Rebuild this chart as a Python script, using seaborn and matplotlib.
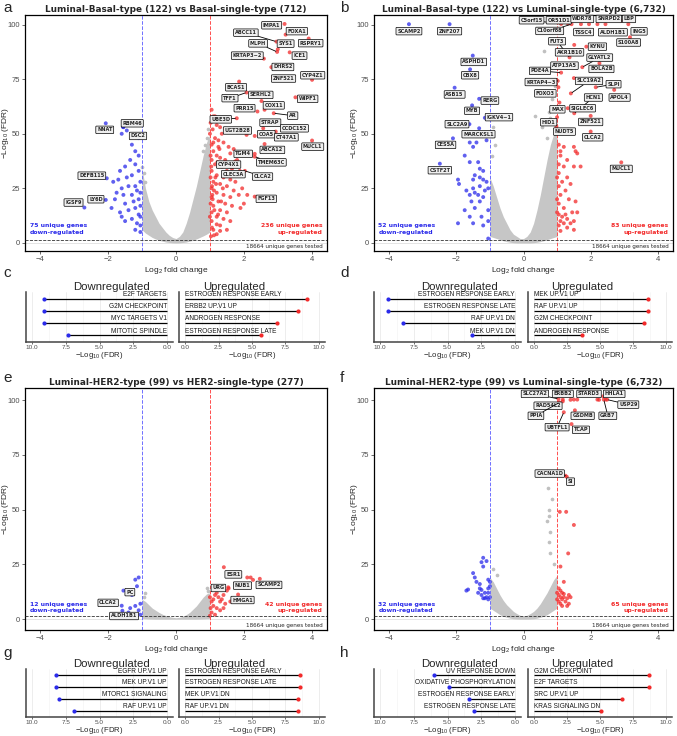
import numpy as np
import pandas as pd
import matplotlib
matplotlib.use("Agg")
import matplotlib.pyplot as plt
import seaborn as sns

sns.set_theme(style="white")
plt.rcParams['font.family'] = ['Liberation Sans', 'DejaVu Sans']
plt.rcParams['mathtext.default'] = 'regular'

W, H = 677, 736
RED = '#f22a2a'
BLUE = '#2b2bea'
GREY = '#c0c0c0'

# ---------------- volcano data ----------------
# x grid of the grey (non significant) cloud
cloud_x = [-1.0, -0.9, -0.8, -0.7, -0.6, -0.5, -0.4, -0.3, -0.2, -0.1, 0.0,
           0.1, 0.2, 0.3, 0.4, 0.5, 0.6, 0.7, 0.8, 0.9, 1.0]

# panel a: Luminal-Basal vs Basal-single
a_genes = ['IMPA1', 'FOXA1', 'RSPRY1', 'ABCC11', 'SYS1', 'MLPH', 'ICE1', 'KRTAP3−2',
           'DHRS2', 'ZNF521', 'CYP4Z1', 'BCAS1', 'TFF1', 'SERHL2', 'WIPF1', 'PRR15',
           'COX11', 'AR', 'UBE3D', 'STRAP', 'CCDC152', 'UGT2B28', 'COA5', 'CT47A1',
           'ABCA12', 'MUCL1', 'TGM4', 'TMEM63C', 'CYP4X1', 'CLEC3A', 'CLCA2', 'FGF13',
           'NNAT', 'RBM46', 'DSC2', 'DEFB115', 'LY6D', 'IGSF9']
a_lfc = [3.2, 3.23, 3.91, 2.96, 3.0, 2.98, 3.35, 2.59, 2.81, 2.86, 4.01, 1.86, 2.08, 2.52,
         3.52, 2.4, 2.61, 2.88, 1.79, 2.57, 3.2, 2.08, 2.32, 2.94, 2.61, 4.01, 2.32, 2.32,
         1.74, 1.88, 2.03, 2.32, -2.07, -1.56, -1.45, -2.04, -2.07, -2.7]
a_fdr = [100.3, 95.4, 93.6, 92.2, 88.7, 87.5, 87.3, 84.4, 80.5, 75.7, 74.7, 73.9, 68.9, 65.0,
         66.7, 60.2, 61.0, 59.4, 57.1, 52.5, 51.8, 49.5, 49.0, 51.0, 45.3, 46.9, 40.8, 39.5,
         37.3, 33.0, 33.0, 21.2, 54.8, 53.1, 51.5, 29.6, 19.7, 16.2]
a_label_pos = [(2.82, 99.7), (3.56, 97), (3.97, 91.5), (2.06, 96.3), (3.23, 91.3), (2.42, 91.4),
               (3.64, 85.8), (2.1, 85.8), (3.15, 80.6), (3.17, 75.3), (4.03, 76.8), (1.77, 71.3),
               (1.59, 66.3), (2.5, 67.8), (3.88, 66), (2.02, 61.7), (2.88, 63), (3.44, 58.3),
               (1.32, 56.6), (2.78, 55.1), (3.49, 52.5), (1.81, 51.5), (2.66, 49.8), (3.25, 48.4),
               (2.84, 42.6), (4.03, 44.1), (1.98, 40.8), (2.81, 36.9), (1.55, 35.9), (1.69, 31.5),
               (2.55, 30.4), (2.66, 20.2), (-2.1, 51.8), (-1.29, 54.8), (-1.12, 49), (-2.48, 30.8),
               (-2.36, 20), (-3.02, 18.5)]
a_up_x = [1.05, 1.1, 1.02, 1.08, 1.2, 1.3, 1.35, 1.15, 1.25, 1.05, 1.4, 1.55, 1.7, 1.6, 1.1, 1.2,
          1.3, 1.45, 1.05, 1.15, 1.35, 1.5, 1.65, 1.8, 1.9, 1.05, 1.2, 1.4, 1.6, 1.75, 1.1, 1.3,
          1.5, 1.7, 1.05, 1.2, 1.4, 1.6, 1.85, 1.05, 1.25, 1.45, 1.65, 1.9, 1.1, 1.3, 1.5, 1.05,
          1.2, 1.4, 1.6, 1.05, 1.3, 1.5, 1.1, 1.2, 1.3, 2.1, 2.0, 1.95, 1.02, 1.02, 1.02, 1.08,
          1.12, 1.18, 1.25, 1.45, 1.03, 1.06, 1.0, 1.13, 1.07, 1.16, 1.04, 1.22, 1.1, 1.28, 1.0,
          1.15, 1.06, 1.24, 1.33, 1.38, 1.12, 1.2]
a_up_y = [61, 58, 55, 52, 54, 53, 50, 48, 47, 45, 46, 44, 43, 41, 42, 40, 39, 38, 38, 36, 35,
          33, 34, 38, 31, 33, 31, 30, 29, 28, 28, 27, 26, 24, 25, 23, 22, 21, 22, 21, 19, 18,
          17, 16, 17, 15, 14, 14, 12, 11, 10, 10, 8, 6, 6, 4, 5.5, 22, 18, 25, 18, 30, 40, 20,
          24, 27, 44, 52, 3, 7, 12, 15, 22, 30, 35, 37, 46, 43, 50, 58, 26, 13, 19, 25, 3.5,
          8.5]
a_down_x = [-1.1, -1.2, -1.1, -1.35, -1.2, -1.5, -1.65, -1.1, -1.3, -1.45, -1.7, -1.85, -1.05,
            -1.2, -1.4, -1.15, -1.05, -1.3, -1.55, -1.75, -1.1, -1.25, -1.5, -1.05, -1.2, -1.4,
            -1.65, -1.1, -1.05, -1.3, -1.15, -1.5, -1.05, -1.2, -1.05, -1.6, -1.9, -1.8, -1.6,
            -1.3, -1.55, -1.6]
a_down_y = [48, 42, 40, 38, 36, 35, 33, 33, 31, 30, 29, 28, 28, 26, 26, 24, 23, 22, 22, 23, 20,
            19, 18, 17, 16, 15, 14, 13, 12, 11, 9, 10, 8, 6, 5, 12, 16, 20, 25, 45, 53, 50]
a_cloud_hi = [34, 25, 19, 15, 12, 9, 7, 5, 3.5, 2.5, 2, 3, 5, 9, 14, 20, 26, 33, 40, 46, 50]
a_cloud_lo = [6, 4.5, 3.5, 2.5, 1.8, 1.2, 0.8, 0.4, 0.2, 0.05, 0, 0.05, 0.2, 0.4, 0.8, 1.2,
              1.8, 2.5, 3.2, 4, 5]
a_grey_x = [0.95, 0.9, 0.85, -1.0, -0.95, 0.97, 0.8, -0.9]
a_grey_y = [52, 48, 45, 35, 32, 40, 42, 28]

# panel b: Luminal-Basal vs Luminal-single
b_genes = ['SCAMP2', 'ZNF207', 'ASPHD1', 'CBX8', 'ASB15', 'RERG', 'MYB', 'IGKV4−1', 'SLC2A9',
           'MARCKSL1', 'CES5A', 'CSTF2T', 'C5orf15', 'OR51D1', 'WDR78', 'SNRPD2', 'LBP',
           'C10orf88', 'TSSC4', 'ALDH1B1', 'ING5', 'S100A8', 'FUT3', 'AKR1B10', 'KYNU',
           'GLYATL2', 'ATP13A5', 'BOLA2B', 'PDE4A', 'KRTAP4−3', 'SLC19A2', 'SLPI', 'APOL4',
           'FOXO3', 'HCN1', 'MAX', 'SIGLEC6', 'HID1', 'ZNF521', 'NUDT5', 'CLCA2', 'MUCL1']
b_lfc = [-3.41, -2.2, -1.51, -1.59, -2.05, -1.32, -1.53, -1.15, -1.61, -1.32, -2.1, -2.49,
         1.12, 1.32, 1.95, 2.2, 2.9, 1.43, 1.71, 2.44, 3.12, 3.17, 1.37, 1.51, 1.87, 1.75, 1.5,
         2.26, 1.12, 1.02, 1.41, 2.15, 2.7, 1.04, 1.51, 1.07, 1.32, 1.0, 2.0, 0.98, 2.0, 2.91]
b_fdr = [100.2, 100.2, 85.8, 79.5, 71.1, 66.0, 63.0, 57.3, 54.4, 52.5, 47.9, 36.3, 100.3,
         100.6, 100.2, 100.2, 101.8, 100.2, 100.2, 100.2, 100.2, 94.2, 85.0, 90.7, 89.9, 80.5,
         75.5, 82.3, 78.0, 74.2, 68.5, 71.3, 70.1, 71.3, 59.4, 64.3, 61.7, 57.6, 58.2, 53.3,
         51.0, 36.9]
b_label_pos = [(-3.41, 97), (-2.2, 97), (-1.48, 82.9), (-1.59, 76.8), (-2.05, 68), (-1.0, 65.2),
               (-1.53, 60.5), (-0.73, 57.6), (-1.98, 54.4), (-1.34, 49.8), (-2.32, 44.9),
               (-2.49, 33.3), (0.24, 102), (1.05, 102), (1.75, 102.6), (2.54, 102.6),
               (3.14, 102.6), (0.78, 97.1), (1.79, 96.6), (2.66, 96.5), (3.44, 96.9),
               (3.13, 91.8), (1.0, 92.4), (1.37, 87.3), (2.2, 89.9), (2.27, 84.9), (1.22, 81.2),
               (2.32, 79.7), (0.49, 78.8), (0.52, 73.7), (1.95, 74.2), (2.68, 72.7),
               (2.86, 66.6), (0.65, 68.5), (2.08, 66.6), (1.01, 61.2), (1.76, 61.7),
               (0.75, 55.3), (2.0, 55.4), (1.22, 51), (2.06, 48.4), (2.91, 33.9)]
b_up_x = [1.05, 1.2, 1.5, 1.55, 1.6, 1.1, 1.3, 1.05, 1.2, 1.5, 1.7, 1.05, 1.3, 1.15, 1.4, 1.05,
          1.25, 1.1, 1.35, 1.55, 1.05, 1.2, 1.45, 1.6, 1.05, 1.15, 1.3, 1.1, 1.2, 1.05, 1.3, 1.5,
          1.1, 1.0, 1.0, 1.0, 1.4, 1.5, 1.1, 1.25]
b_up_y = [45, 44, 44, 42, 41, 40, 38, 36, 35, 35, 35, 32, 30, 28, 27, 26, 24, 22, 20, 19, 18,
          16, 14, 14, 13, 12, 11, 10, 9, 8, 7, 6, 5.5, 14, 20, 30, 9, 10, 42, 13]
b_down_x = [-1.1, -1.4, -1.6, -1.5, -1.75, -1.6, -1.35, -1.3, -1.2, -1.45, -1.3, -1.2, -1.5,
            -1.1, -1.95, -1.92, -1.3, -1.5, -1.05, -1.15, -1.7, -1.45, -1.6, -1.35, -1.2,
            -1.55, -1.3, -1.45, -1.05, -1.75, -1.6, -1.25, -1.05, -1.95, -1.5, -1.2, -1.05]
b_down_y = [47, 46, 46, 44, 40, 37, 37, 34, 33, 31, 30, 29, 29, 28, 29, 27, 26, 25, 25, 24,
            24, 23, 22, 22, 21, 19, 19, 16, 15, 15, 12, 12, 10, 9, 9, 8, 2]
b_cloud_hi = [30, 26, 21, 16, 12, 9, 6, 4, 3, 2, 2, 3, 5, 9, 15, 22, 30, 38, 45, 50, 52]
b_cloud_lo = [3, 2.5, 2, 1.5, 1, 0.6, 0.3, 0.1, 0, 0, 0, 0, 0, 0.1, 0.3, 0.6, 1, 1.5, 2, 2.5, 3]
b_grey_x = [0.61, 0.35, 0.75, 0.85, 0.55, 0.9, -0.9, -0.95, -0.85, 0.95, 0.7, 0.8, -0.93]
b_grey_y = [88, 58, 60, 66, 53, 55, 53, 49, 45, 72, 48, 57, 40]

# panel e: Luminal-HER2 vs HER2-single
e_genes = ['ESR1', 'SCAMP2', 'NUB1', 'URG', 'HMGA1', 'PC', 'CLCA2', 'ALDH1B1']
e_lfc = [1.41, 2.47, 2.27, 1.54, 1.83, -1.55, -1.6, -1.58]
e_fdr = [23.7, 18.4, 17.9, 14.5, 11.2, 13.0, 6.1, 3.8]
e_label_pos = [(1.69, 20.4), (2.74, 15.6), (1.96, 15.3), (1.25, 14.2), (1.96, 8.7),
               (-1.36, 12.3), (-2.0, 7.4), (-1.53, 1.4)]
e_up_x = [1.0, 1.05, 1.1, 1.15, 1.2, 1.25, 1.3, 1.35, 1.4, 1.45, 1.5, 1.55, 1.1, 1.2, 1.3,
          1.05, 1.15, 1.4, 1.6, 2.1, 2.2, 1.0, 1.02]
e_up_y = [10, 8, 9, 11, 12, 10, 8, 9, 11, 7, 13, 14, 6, 5, 4, 3, 2, 5, 8, 19, 19, 1.5, 5]
e_down_x = [-1.2, -1.1, -1.15, -1.3, -1.05, -1.2, -1.35, -1.1, -1.4, -1.05]
e_down_y = [18, 19, 15, 11, 7, 6, 5, 4, 3, 2]
e_cloud_hi = [9, 8, 6.5, 5, 4, 3, 2.2, 1.6, 1.1, 0.8, 0.6, 0.8, 1.2, 2, 3, 4.5, 6, 8, 10,
              11.5, 12]
e_cloud_lo = [0.3, 0.2, 0.1, 0.05, 0, 0, 0, 0, 0, 0, 0, 0, 0, 0, 0, 0, 0, 0.05, 0.1, 0.2, 0.3]
e_grey_x = [-0.95, -0.9, 0.95, 0.9]
e_grey_y = [10, 12, 13, 14]

# panel f: Luminal-HER2 vs Luminal-single
f_genes = ['SLC27A2', 'ERBB2', 'RAD54L2', 'PPIA', 'GSDMB', 'UBTFL1', 'TCAP', 'STARD3',
           'HHLA1', 'USP29', 'GRB7', 'CACNA1D', 'SI']
f_lfc = [1.04, 1.17, 1.17, 1.07, 1.53, 1.2, 1.43, 2.2, 2.37, 2.49, 2.39, 1.25, 1.29]
f_fdr = [100.6, 100.3, 99.5, 99.0, 95.4, 94.5, 89.1, 100.3, 101.8, 100.3, 100.3, 65.5, 65.0]
f_label_pos = [(0.34, 102.9), (1.17, 102.9), (0.73, 97.5), (0.37, 92.9), (1.76, 92.9),
               (1.0, 87.7), (1.71, 86.5), (1.95, 102.9), (2.7, 102.9), (3.12, 98),
               (2.51, 92.9), (0.78, 66.5), (1.4, 62.8)]
f_up_x = [1.08, 1.27, 1.5, 1.33, 1.1, 1.2, 1.05, 1.1, 1.15, 1.2, 1.05, 1.1, 1.2, 1.3, 1.15,
          1.05, 1.25, 1.1, 1.35, 1.4, 1.0, 1.0, 1.15, 1.3, 1.35, 1.4, 1.5, 1.6, 2.25, 2.45, 1.4]
f_up_y = [49, 49, 43, 30, 24, 17, 14, 13, 12, 11.5, 11, 10, 10, 9.5, 9, 8, 8, 7, 11, 10, 12,
          9, 6, 6, 7, 100.2, 100.3, 100.3, 100.2, 100.3, 102]
f_down_x = [-1.0, -1.05, -1.2, -1.25, -1.1, -1.2, -1.5, -1.45, -1.4, -1.65, -1.7, -1.3, -1.3,
            -1.15, -1.25, -1.05, -1.1, -1.15, -1.2, -1.05, -1.0, -1.25, -1.35, -1.05, -1.0]
f_down_y = [17, 18, 28, 26, 26.5, 24, 21, 19, 17, 13.5, 13, 16, 14, 12, 11, 12, 10, 9.5, 9.5,
            9, 10, 13.3, 12, 14, 15]
f_cloud_hi = [19, 17, 14, 11, 8.5, 6.5, 5, 3.5, 2.5, 1.7, 1.3, 1.7, 2.5, 3.5, 5, 7, 9.5, 12,
              15, 18, 20]
f_cloud_lo = [5, 4, 3, 2, 1.3, 0.8, 0.4, 0.15, 0.05, 0, 0, 0, 0.05, 0.15, 0.4, 0.8, 1.3, 2,
              3, 4, 5]
f_grey_x = [0.73, 0.76, 0.75, 0.78, 0.75, 0.8, 0.85, -0.9, -0.8, 0.7, 0.9]
f_grey_y = [60, 50, 47, 40, 35, 30, 55, 23, 20, 45, 25]

# ---------------- hallmark enrichment (lollipops) ----------------
c_down_terms = ['E2F TARGETS', 'G2M CHECKPOINT', 'MYC TARGETS V1', 'MITOTIC SPINDLE']
c_down_vals = [9.1, 9.1, 9.1, 7.3]
c_up_terms = ['ESTROGEN RESPONSE EARLY', 'ERBB2 UP.V1 UP', 'ANDROGEN RESPONSE',
              'ESTROGEN RESPONSE LATE']
c_up_vals = [9.1, 8.4, 6.9, 5.7]
d_down_terms = ['ESTROGEN RESPONSE EARLY', 'ESTROGEN RESPONSE LATE', 'RAF UP.V1 DN',
                'MEK UP.V1 DN']
d_down_vals = [9.4, 9.4, 8.3, 3.2]
d_up_terms = ['MEK UP.V1 UP', 'RAF UP.V1 UP', 'G2M CHECKPOINT', 'ANDROGEN RESPONSE']
d_up_vals = [8.6, 8.6, 8.3, 3.6]
g_down_terms = ['EGFR UP.V1 UP', 'MEK UP.V1 UP', 'MTORC1 SIGNALING', 'RAF UP.V1 UP']
g_down_vals = [8.2, 8.2, 8.0, 6.9]
g_up_terms = ['ESTROGEN RESPONSE EARLY', 'ESTROGEN RESPONSE LATE', 'MEK UP.V1 DN',
              'RAF UP.V1 DN']
g_up_vals = [8.6, 8.6, 8.4, 8.4]
h_down_terms = ['UV RESPONSE DOWN', 'OXIDATIVE PHOSPHORYLATION', 'ESTROGEN RESPONSE EARLY',
                'ESTROGEN RESPONSE LATE']
h_down_vals = [6.0, 4.9, 3.4, 3.0]
h_up_terms = ['G2M CHECKPOINT', 'E2F TARGETS', 'SRC UP.V1 UP', 'KRAS SIGNALING DN']
h_up_vals = [8.7, 8.7, 6.7, 5.1]


def px_axes(fig, left, right, top, bottom):
    return fig.add_axes([left / W, 1 - bottom / H, (right - left) / W, (bottom - top) / H])


def volcano(ax, title, genes, lfc, fdr, label_pos, up_x, up_y, down_x, down_y,
            cloud_hi, cloud_lo, grey_x, grey_y, n_down, n_up, ylim):
    ax.fill_between(cloud_x, cloud_lo, cloud_hi, color=GREY, alpha=0.9, lw=0, zorder=1)
    sns.scatterplot(x=grey_x, y=grey_y, color=GREY, s=7, linewidth=0, ax=ax, zorder=1)

    pts = pd.DataFrame({'lfc': list(up_x) + list(down_x) + list(lfc),
                        'fdr': list(up_y) + list(down_y) + list(fdr)})
    pts['dir'] = np.where(pts['lfc'] > 0, 'up', 'down')
    sns.scatterplot(data=pts, x='lfc', y='fdr', hue='dir', palette={'up': RED, 'down': BLUE},
                    s=8, linewidth=0, alpha=0.75, legend=False, ax=ax, zorder=2)

    ax.axvline(-1, color='#6f6fff', ls='--', lw=0.7, zorder=3)
    ax.axvline(1, color='#ff4d4d', ls='--', lw=0.7, zorder=3)
    ax.axhline(0, color='#d9d9d9', lw=0.5, zorder=0)
    ax.axhline(1.3, color='#333333', ls='--', lw=0.6, zorder=3)

    for g, x, y, (lx, ly) in zip(genes, lfc, fdr, label_pos):
        dist = np.hypot((lx - x) * 34, (ly - y) * 2.18)
        arrow = dict(arrowstyle='-', color='black', lw=0.6, shrinkA=0, shrinkB=1) if dist > 16 else None
        ax.annotate(g, xy=(x, y), xytext=(lx, ly), ha='center', va='center',
                    fontsize=3.6, fontweight='bold', family='DejaVu Sans', zorder=5,
                    bbox=dict(boxstyle='round,pad=0.25,rounding_size=0.15', fc='#efefef',
                              ec='black', lw=0.5),
                    arrowprops=arrow)

    ax.text(0.015, 0.093, f'{n_down} unique genes\ndown-regulated', transform=ax.transAxes,
            color=BLUE, fontsize=4.4, fontweight='bold', family='DejaVu Sans',
            ha='left', va='center', linespacing=1.3)
    ax.text(0.985, 0.093, f'{n_up} unique genes\nup-regulated', transform=ax.transAxes,
            color=RED, fontsize=4.4, fontweight='bold', family='DejaVu Sans',
            ha='right', va='center', multialignment='right', linespacing=1.3)
    ax.text(0.985, 0.008, '18664 unique genes tested', transform=ax.transAxes,
            fontsize=4.1, family='DejaVu Sans', ha='right', va='bottom')

    ax.set_xlim(-4.45, 4.45)
    ax.set_ylim(*ylim)
    ax.set_xticks([-4, -2, 0, 2, 4], ['−4', '−2', '0', '2', '4'])
    ax.set_yticks([0, 25, 50, 75, 100])
    ax.tick_params(labelsize=5.5, labelcolor='#4d4d4d', length=2, width=0.5, color='#333333',
                   pad=1.5, bottom=True, left=True)
    for sp in ax.spines.values():
        sp.set_color('black')
        sp.set_linewidth(0.9)
    ax.set_xlabel('Log$_2$ fold change', fontsize=6, labelpad=1.5)
    ax.set_ylabel('−Log$_{10}$ (FDR)', fontsize=6.0)
    ax.yaxis.set_label_coords(-0.047, 0.5)
    ax.set_title(title, fontsize=6.4, fontweight='bold', family='DejaVu Sans', pad=2.5)


def lollipop(ax, terms, vals, color, down, title):
    y = np.arange(len(terms))[::-1]
    ax.hlines(y, 0, vals, color='black', lw=0.9, zorder=2)
    sns.scatterplot(x=vals, y=y, color=color, s=9, linewidth=0, ax=ax, zorder=3)
    for t, yy in zip(terms, y):
        ax.text(0, yy + 0.06, t, ha='right' if down else 'left', va='bottom', fontsize=4.7,
                color='#1a1a1a', zorder=4)
    if down:
        ax.set_xlim(10.45, -0.45)
    else:
        ax.set_xlim(-0.45, 10.45)
    ax.set_ylim(-0.55, 3.55)
    ax.set_yticks([])
    ax.set_xticks([0, 2.5, 5, 7.5, 10], ['0.0', '2.5', '5.0', '7.5', '10.0'])
    ax.set_xticks([1.25, 3.75, 6.25, 8.75], minor=True)
    ax.grid(axis='x', which='major', color='#e6e6e6', lw=0.5)
    ax.grid(axis='x', which='minor', color='#f2f2f2', lw=0.4)
    ax.tick_params(axis='x', labelsize=4.6, labelcolor='#4d4d4d', length=1.5, width=0.5,
                   color='#333333', pad=0.5, bottom=True)
    ax.tick_params(axis='x', which='minor', length=0)
    for side in ['top', 'right']:
        ax.spines[side].set_visible(False)
    for side in ['left', 'bottom']:
        ax.spines[side].set_color('#444444')
        ax.spines[side].set_linewidth(1.1)
    ax.set_xlabel('−Log$_{10}$ (FDR)', fontsize=5.6, labelpad=0)
    # ggplot centres the facet titles off the panel centre
    ax.set_title(title, fontsize=8.2, pad=1.5, x=0.582 if down else 0.377)


fig = plt.figure(figsize=(W / 100, H / 100), dpi=100)

ax_a = px_axes(fig, 25, 327, 15, 251)
volcano(ax_a, 'Luminal-Basal-type (122) vs Basal-single-type (712)', a_genes, a_lfc, a_fdr,
        a_label_pos, a_up_x, a_up_y, a_down_x, a_down_y, a_cloud_hi, a_cloud_lo,
        a_grey_x, a_grey_y, 75, 236, (-3.7, 104.4))
ax_b = px_axes(fig, 374, 673, 15, 251)
volcano(ax_b, 'Luminal-Basal-type (122) vs Luminal-single-type (6,732)', b_genes, b_lfc, b_fdr,
        b_label_pos, b_up_x, b_up_y, b_down_x, b_down_y, b_cloud_hi, b_cloud_lo,
        b_grey_x, b_grey_y, 52, 83, (-3.7, 104.4))
ax_e = px_axes(fig, 25, 327, 388, 630)
volcano(ax_e, 'Luminal-HER2-type (99) vs HER2-single-type (277)', e_genes, e_lfc, e_fdr,
        e_label_pos, e_up_x, e_up_y, e_down_x, e_down_y, e_cloud_hi, e_cloud_lo,
        e_grey_x, e_grey_y, 12, 42, (-5.0, 105.6))
ax_f = px_axes(fig, 374, 673, 388, 630)
volcano(ax_f, 'Luminal-HER2-type (99) vs Luminal-single-type (6,732)', f_genes, f_lfc, f_fdr,
        f_label_pos, f_up_x, f_up_y, f_down_x, f_down_y, f_cloud_hi, f_cloud_lo,
        f_grey_x, f_grey_y, 32, 65, (-5.0, 105.6))

lollipop(px_axes(fig, 26, 173, 292, 342), c_down_terms, c_down_vals, BLUE, True, 'Downregulated')
lollipop(px_axes(fig, 179, 325, 292, 342), c_up_terms, c_up_vals, RED, False, 'Upregulated')
lollipop(px_axes(fig, 374, 521, 292, 342), d_down_terms, d_down_vals, BLUE, True, 'Downregulated')
lollipop(px_axes(fig, 528, 672, 292, 342), d_up_terms, d_up_vals, RED, False, 'Upregulated')
lollipop(px_axes(fig, 26, 173, 669, 717), g_down_terms, g_down_vals, BLUE, True, 'Downregulated')
lollipop(px_axes(fig, 179, 325, 669, 717), g_up_terms, g_up_vals, RED, False, 'Upregulated')
lollipop(px_axes(fig, 374, 521, 669, 717), h_down_terms, h_down_vals, BLUE, True, 'Downregulated')
lollipop(px_axes(fig, 528, 672, 669, 717), h_up_terms, h_up_vals, RED, False, 'Upregulated')

for letter, x, y in [('a', 3, 8), ('b', 340, 8), ('c', 3, 273), ('d', 340, 273),
                     ('e', 3, 378), ('f', 340, 378), ('g', 3, 653), ('h', 340, 653)]:
    fig.text(x / W, 1 - y / H, letter, fontsize=11, va='center', ha='left')

fig.savefig('out.png', dpi=100)
